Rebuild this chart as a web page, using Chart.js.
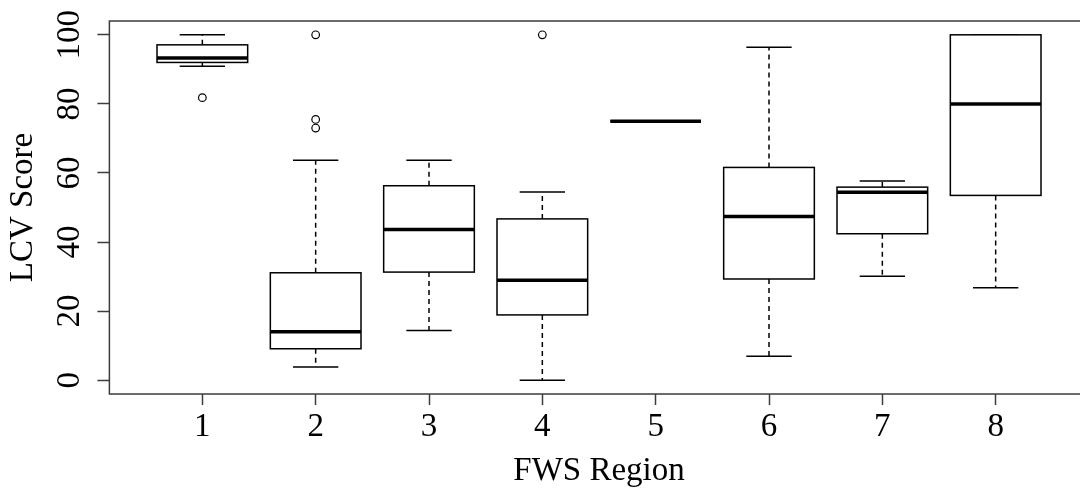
<!DOCTYPE html>
<html lang="en">
<head>
    <meta charset="UTF-8">
    <title>LCV Score by FWS Region</title>
    <script src="https://cdn.jsdelivr.net/npm/chart.js"></script>
    <style>
        body { margin: 0; overflow: hidden; background: #fff; }
    </style>
</head>
<body>
    <canvas id="chart" width="1100" height="491"></canvas>

    <script>
        // five-number summaries per region
        var regions = [1, 2, 3, 4, 5, 6, 7, 8];
        var whiskerLow  = [90.9, 3.8, 14.4, 0.0, 75, 6.9, 30.1, 26.8];
        var q1          = [92.0, 9.1, 31.3, 18.9, 75, 29.3, 42.4, 53.5];
        var median      = [93.3, 14.0, 43.6, 28.9, 75, 47.4, 54.4, 80.0];
        var q3          = [97.1, 31.1, 56.3, 46.7, 75, 61.6, 55.9, 100];
        var whiskerHigh = [100, 63.7, 63.7, 54.5, 75, 96.4, 57.7, 100];

        // outliers
        var outlierRegion = [1, 2, 2, 2, 4];
        var outlierValue  = [81.8, 100, 75.5, 73.0, 100];

        var xTicks = [1, 2, 3, 4, 5, 6, 7, 8];
        var yTicks = [0, 20, 40, 60, 80, 100];

        var serif = "'Liberation Serif', 'DejaVu Serif', serif";
        var frameColor = '#3c3c3c';

        var boxWidth = 0.8;
        var capWidth = 0.4;

        var boxplotPlugin = {
            id: 'boxplot',
            beforeDatasetsDraw: function(chart) {
                var ctx = chart.ctx;
                var xs = chart.scales.x;
                var ys = chart.scales.y;
                ctx.save();
                ctx.strokeStyle = '#000';
                ctx.lineCap = 'butt';

                for (var i = 0; i < regions.length; i++) {
                    var r = regions[i];
                    var xl = xs.getPixelForValue(r - boxWidth / 2);
                    var xr = xs.getPixelForValue(r + boxWidth / 2);
                    var xc = xs.getPixelForValue(r);
                    var cl = xs.getPixelForValue(r - capWidth / 2);
                    var cr = xs.getPixelForValue(r + capWidth / 2);
                    var yLo = ys.getPixelForValue(whiskerLow[i]);
                    var yQ1 = ys.getPixelForValue(q1[i]);
                    var yMed = ys.getPixelForValue(median[i]);
                    var yQ3 = ys.getPixelForValue(q3[i]);
                    var yHi = ys.getPixelForValue(whiskerHigh[i]);

                    // dashed whiskers
                    ctx.lineWidth = 1.5;
                    ctx.setLineDash([5, 4]);
                    ctx.beginPath();
                    ctx.moveTo(xc, yQ1);
                    ctx.lineTo(xc, yLo);
                    ctx.moveTo(xc, yQ3);
                    ctx.lineTo(xc, yHi);
                    ctx.stroke();

                    // staples
                    ctx.setLineDash([]);
                    ctx.beginPath();
                    ctx.moveTo(cl, yLo);
                    ctx.lineTo(cr, yLo);
                    ctx.moveTo(cl, yHi);
                    ctx.lineTo(cr, yHi);
                    ctx.stroke();

                    // box
                    ctx.fillStyle = '#fff';
                    ctx.fillRect(xl, yQ3, xr - xl, yQ1 - yQ3);
                    ctx.strokeRect(xl, yQ3, xr - xl, yQ1 - yQ3);

                    // median
                    ctx.lineWidth = 3.5;
                    ctx.beginPath();
                    ctx.moveTo(xl, yMed);
                    ctx.lineTo(xr, yMed);
                    ctx.stroke();
                }
                ctx.restore();
            },
            afterDraw: function(chart) {
                var a = chart.chartArea;
                var ctx = chart.ctx;
                ctx.save();
                ctx.strokeStyle = frameColor;
                ctx.lineWidth = 1.5;
                ctx.strokeRect(a.left, a.top, a.right - a.left, a.bottom - a.top);
                ctx.restore();
            }
        };

        var points = outlierRegion.map(function(r, i) {
            return { x: r, y: outlierValue[i] };
        });

        var ctx = document.getElementById('chart').getContext('2d');
        var chart = new Chart(ctx, {
            type: 'scatter',
            data: {
                datasets: [{
                    label: 'Outliers',
                    data: points,
                    pointStyle: 'circle',
                    pointRadius: 3.8,
                    borderColor: '#000',
                    borderWidth: 1.2,
                    backgroundColor: 'rgba(0,0,0,0)'
                }]
            },
            options: {
                responsive: false,
                animation: false,
                events: [],
                layout: { padding: { top: 21, right: 11.4, bottom: 0, left: 0 } },
                plugins: {
                    legend: { display: false },
                    tooltip: { enabled: false }
                },
                scales: {
                    x: {
                        type: 'linear',
                        min: 0.18,
                        max: 8.82,
                        afterBuildTicks: function(scale) {
                            scale.ticks = xTicks.map(function(v) { return { value: v }; });
                        },
                        afterFit: function(scale) {
                            scale.height = 97;
                            scale.paddingLeft = 0;
                            scale.paddingRight = 0;
                        },
                        grid: {
                            drawOnChartArea: false,
                            drawTicks: true,
                            tickLength: 11,
                            tickWidth: 1.5,
                            tickColor: frameColor
                        },
                        border: { display: false },
                        ticks: {
                            autoSkip: false,
                            maxRotation: 0,
                            padding: 3,
                            color: '#000',
                            font: { family: serif, size: 33 }
                        },
                        title: {
                            display: true,
                            text: 'FWS Region',
                            color: '#000',
                            padding: { top: 0, bottom: 0 },
                            font: { family: serif, size: 33, lineHeight: 1.2 }
                        }
                    },
                    y: {
                        min: -4,
                        max: 104,
                        afterBuildTicks: function(scale) {
                            scale.ticks = yTicks.map(function(v) { return { value: v }; });
                        },
                        afterFit: function(scale) {
                            scale.width = 109.4;
                            scale.paddingTop = 0;
                            scale.paddingBottom = 0;
                        },
                        grid: {
                            drawOnChartArea: false,
                            drawTicks: true,
                            tickLength: 12,
                            tickWidth: 1.5,
                            tickColor: frameColor
                        },
                        border: { display: false },
                        ticks: {
                            autoSkip: false,
                            minRotation: 90,
                            maxRotation: 90,
                            crossAlign: 'center',
                            padding: 2,
                            color: '#000',
                            font: { family: serif, size: 33 }
                        },
                        title: {
                            display: true,
                            text: 'LCV Score',
                            color: '#000',
                            padding: { top: 4, bottom: 0 },
                            font: { family: serif, size: 33, lineHeight: 1.2 }
                        }
                    }
                }
            },
            plugins: [boxplotPlugin]
        });
    </script>
</body>
</html>
